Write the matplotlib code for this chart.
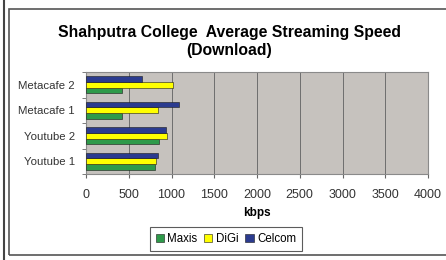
import numpy as np
import matplotlib.pyplot as plt
from matplotlib.patches import Rectangle
from matplotlib.lines import Line2D

plt.rcParams['font.family'] = ['Liberation Sans', 'DejaVu Sans']

categories = ["Youtube 1", "Youtube 2", "Metacafe 1", "Metacafe 2"]
maxis = [805, 850, 420, 420]
digi = [820, 950, 840, 1015]
celcom = [840, 940, 1085, 655]
x_ticks = [0, 500, 1000, 1500, 2000, 2500, 3000, 3500, 4000]

W, H = 446, 260
fig = plt.figure(figsize=(W / 100, H / 100), dpi=100)

# frame lines like the cropped screenshot
fig.add_artist(Line2D([3.5 / W, 3.5 / W], [0, 1], color="#444444", lw=1.5))
fig.add_artist(Rectangle((9 / W, 1 - 255 / H), 1.0, (255 - 9) / H,
                         fill=False, ec="#555555", lw=1.2))

ax = fig.add_axes([86 / W, 1 - 174 / H, (428 - 86) / W, (174 - 72) / H])
ax.set_facecolor("#c6c2be")

y = np.arange(len(categories))
h = 0.22
ax.barh(y - h, maxis, h, color="#2e9a4a", edgecolor="#1a1a1a", lw=0.4, label="Maxis", zorder=3)
ax.barh(y, digi, h, color="#ffff00", edgecolor="#1a1a1a", lw=0.4, label="DiGi", zorder=3)
ax.barh(y + h, celcom, h, color="#2b3b8f", edgecolor="#1a1a1a", lw=0.4, label="Celcom", zorder=3)

ax.set_xlim(0, 4000)
ax.set_ylim(-0.5, 3.5)
ax.set_xticks(x_ticks)
ax.set_xticklabels([str(v) for v in x_ticks], fontsize=9, color="#333333")
ax.set_yticks(y)
ax.set_yticklabels(categories, fontsize=8.2, color="#333333")
ax.set_yticks(np.arange(-0.5, 3.6, 1), minor=True)
ax.tick_params(axis="y", which="major", length=0, pad=8)
ax.tick_params(axis="y", which="minor", length=3, color="#666666")
ax.tick_params(axis="x", length=3, color="#666666", pad=8)
ax.grid(axis="x", color="#6e6e6e", lw=0.7, zorder=0)
for s in ax.spines.values():
    s.set_color("#8a8a8a")
    s.set_linewidth(0.8)

ax.set_xlabel("kbps", fontsize=8.5, fontweight="bold", labelpad=4)

fig.text(229 / W, 1 - 33 / H, "Shahputra College  Average Streaming Speed",
         ha="center", va="center", fontsize=11.3, fontweight="bold")
fig.text(229 / W, 1 - 51 / H, "(Download)",
         ha="center", va="center", fontsize=11.3, fontweight="bold")

leg = fig.legend(loc="center", bbox_to_anchor=(226 / W, 1 - 239 / H), ncol=3,
                 fontsize=8.3, frameon=True, fancybox=False, handlelength=0.7,
                 handleheight=0.7, handletextpad=0.3, columnspacing=0.6,
                 borderpad=0.5)
leg.get_frame().set_edgecolor("#333333")
leg.get_frame().set_linewidth(0.8)

fig.savefig("out.png", dpi=100)
